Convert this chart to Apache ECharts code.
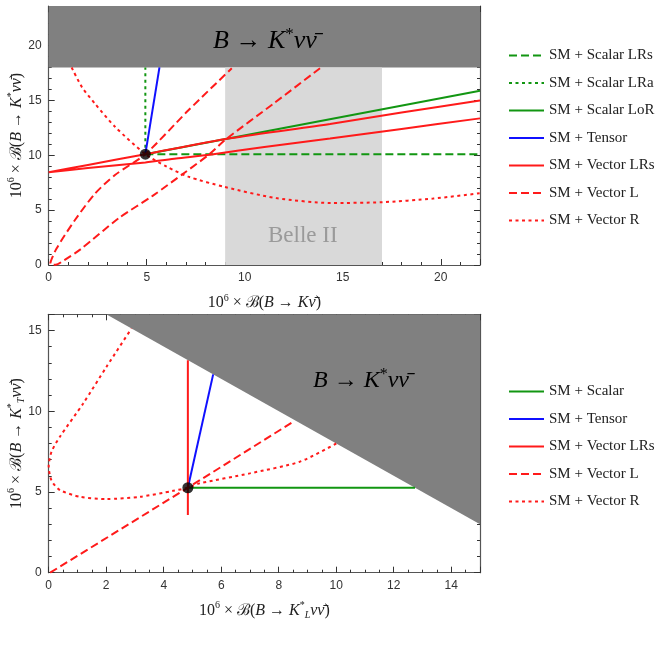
<!DOCTYPE html>
<html><head><meta charset="utf-8">
<script src="https://cdn.jsdelivr.net/npm/echarts@6/dist/echarts.min.js"></script>
<style>html,body{margin:0;padding:0;background:#fff}#c{width:665px;height:651px}</style>
</head><body><div id="c"></div>
<script>
// ---------- data ----------
// top panel: x = 10^6 B(B->K nu nu), y = 10^6 B(B->K* nu nu)
const topSM = [[4.93, 10.1]];
const topScalarLRs = [[4.93, 10.1], [22, 10.1]];
const topScalarLRa = [[4.93, 10.1], [4.93, 18]];
const topScalarLoR = [[4.93, 10.1], [22, 15.87]];
const topTensor = [[4.93, 10.1], [5.65, 18]];
const topVectorLRs = [[22, 13.36], [18, 12.4], [14.35, 11.52], [11, 10.75], [8.4, 10.1], [6.5, 9.7], [4.93, 9.35], [2, 8.83], [0, 8.45],
  [2, 9.12], [4.93, 10.1], [9.25, 11.55], [14.35, 12.85], [18, 13.9], [22, 14.98]];
const topVectorL = [[13.84, 17.93], [11.5, 14.75], [9.0, 11.4], [8.2, 10.1], [7.0, 8.5], [5.3, 6.3], [3.6, 4.3], [1.6, 1.4], [0.8, 0.45], [0.35, 0.02], [0.08, 0.1],
  [0.4, 1.5], [1.34, 4.1], [2.36, 6.5], [3.38, 8.2], [4.93, 10.1], [7.1, 14.05], [9.34, 17.93]];
const topVectorR = [[1.17, 18], [1.7, 16.2], [2.36, 14.7], [3.38, 12.6], [4.93, 10.1], [6.02, 8.96], [7.12, 8.05], [9.0, 7.1], [11.6, 6.1], [14.4, 5.65], [17, 5.72], [19.6, 6.05], [22, 6.54]];
const topExcluded = [[0, 18], [22, 18]];      // B->K* nu nu bound (shaded above)
const belleBand = [[9, 18], [17, 18]];        // Belle II range in x
// bottom panel: x = 10^6 B(B->K*_L nu nu), y = 10^6 B(B->K*_T nu nu)
const botSM = [[4.84, 5.26]];
const botScalar = [[4.84, 5.26], [12.74, 5.26]];
const botTensor = [[4.84, 5.26], [5.72, 12.28]];
const botVectorLRs = [[4.84, 3.57], [4.84, 13.16]];
const botVectorL = [[0.05, 0], [4.84, 5.26], [8.55, 9.4]];
const botVectorR = [[10.0, 8.0], [8.73, 6.87], [6.99, 6.15], [5.25, 5.53], [4.84, 5.26], [4.33, 5.07], [3.17, 4.7], [2.01, 4.56], [1.09, 4.7], [0.39, 5.12], [0.1, 5.7], [0, 6.6], [0.1, 7.5], [0.39, 8.42], [1.2, 10.48], [2.01, 12.75], [2.88, 15.12]];
const botExcluded = [[2, 16], [15, 3]];
const topLegendNames = ['SM + Scalar LRs', 'SM + Scalar LRa', 'SM + Scalar LoR', 'SM + Tensor', 'SM + Vector LRs', 'SM + Vector L', 'SM + Vector R'];
const botLegendNames = ['SM + Scalar', 'SM + Tensor', 'SM + Vector LRs', 'SM + Vector L', 'SM + Vector R'];
const topXTicks = {min: 0, max: 22, interval: 5};
const topYTicks = {min: 0, max: 23.6, interval: 5};
const botXTicks = {min: 0, max: 15, interval: 2};
const botYTicks = {min: 0, max: 16, interval: 5};

// ---------- styles ----------
const RED = '#ff1a1a', GREEN = '#129612', BLUE = '#1010ff';
const DASH = [8, 4], DOT = [3, 3.5];
const SERIF = '"Liberation Serif", "DejaVu Serif", serif';
const rich = (fs) => ({
  r: {fontFamily: SERIF, fontSize: fs, color: '#222'},
  i: {fontFamily: SERIF, fontSize: fs, fontStyle: 'italic', color: '#222'},
  sup: {fontFamily: SERIF, fontSize: Math.round(fs * 0.65), color: '#222', verticalAlign: 'top', lineHeight: fs + 4},
  sub: {fontFamily: SERIF, fontSize: Math.round(fs * 0.65), fontStyle: 'italic', color: '#222', verticalAlign: 'bottom', lineHeight: fs + 2}
});
const nuBar = 'ν\u0304';

const frame = '#555';
function mkX(gi, t, split, main, name) {
  return {
    type: 'value', gridIndex: gi, min: t.min, max: t.max, interval: t.interval,
    position: main ? 'bottom' : 'top',
    axisLine: {show: true, onZero: false, lineStyle: {color: frame, width: 1.2}},
    axisTick: {show: true, inside: true, length: 6, lineStyle: {color: '#333'}},
    minorTick: {show: true, splitNumber: split, length: 3, lineStyle: {color: '#333'}},
    splitLine: {show: false}, minorSplitLine: {show: false},
    axisLabel: {show: main, color: '#333', fontSize: 12, fontFamily: '"Liberation Sans", Arial, sans-serif', margin: 7,
      formatter: v => (Math.abs(v / t.interval - Math.round(v / t.interval)) < 1e-9 ? String(v) : '')},
    name: main ? name : '', nameLocation: 'middle', nameGap: 28, nameMoveOverlap: false,
    nameTextStyle: {rich: rich(16)}
  };
}
function mkY(gi, t, split, main, name) {
  return {
    type: 'value', gridIndex: gi, min: t.min, max: t.max, interval: t.interval,
    position: main ? 'left' : 'right',
    axisLine: {show: true, onZero: false, lineStyle: {color: frame, width: 1.2}},
    axisTick: {show: true, inside: true, length: 6, lineStyle: {color: '#333'}},
    minorTick: {show: true, splitNumber: split, length: 3, lineStyle: {color: '#333'}},
    splitLine: {show: false}, minorSplitLine: {show: false},
    axisLabel: {show: main, color: '#333', fontSize: 12, fontFamily: '"Liberation Sans", Arial, sans-serif', margin: 7,
      formatter: v => (Math.abs(v / t.interval - Math.round(v / t.interval)) < 1e-9 ? String(v) : '')},
    name: main ? name : '', nameLocation: 'middle', nameGap: 22, nameRotate: 90, nameMoveOverlap: false,
    nameTextStyle: {rich: rich(16)}
  };
}
const topXName = '{r|10}{sup|6}{r| × ℬ(}{i|B}{r| → }{i|K' + nuBar + '}{r|)}';
const topYName = '{r|10}{sup|6}{r| × ℬ(}{i|B}{r| → }{i|K}{sup|*}{i|ν' + nuBar + '}{r|)}';
const botXName = '{r|10}{sup|6}{r| × ℬ(}{i|B}{r| → }{i|K}{sup|*}{sub|L}{i|ν' + nuBar + '}{r|)}';
const botYName = '{r|10}{sup|6}{r| × ℬ(}{i|B}{r| → }{i|K}{sup|*}{sub|T}{i|ν' + nuBar + '}{r|)}';

function line(name, data, color, type, xi, yi, z) {
  return {name, type: 'line', data, xAxisIndex: xi, yAxisIndex: yi, symbol: 'none', showSymbol: false,
    lineStyle: {color, width: 2, type}, itemStyle: {color}, z: z || 3, silent: true, smooth: false};
}
function curve(name, data, color, type, xi, yi) {
  const s = line(name, data, color, type, xi, yi);
  s.smooth = 0.25;
  return s;
}
function shade(data, color, origin, xi, yi, z) {
  return {type: 'line', data, xAxisIndex: xi, yAxisIndex: yi, symbol: 'none', silent: true,
    lineStyle: {width: 0, color}, areaStyle: {color, opacity: 1, origin}, z: z};
}
function dot(data, xi, yi) {
  return {type: 'scatter', data, xAxisIndex: xi, yAxisIndex: yi, symbolSize: 11, itemStyle: {color: '#000'}, z: 10, silent: true};
}

const chart = echarts.init(document.getElementById('c'), null, {renderer: 'canvas'});
const legendCommon = {orient: 'vertical', itemWidth: 35, itemHeight: 14, itemGap: 12.5, selectedMode: false,
  itemStyle: {opacity: 0, borderWidth: 0},
  textStyle: {fontFamily: SERIF, fontSize: 15, color: '#222', padding: [0, 0, 0, 0]}};
chart.setOption({
  animation: false,
  grid: [
    {left: 48.7, top: 6, width: 431.3, height: 259, containLabel: false, outerBoundsMode: 'none'},
    {left: 48.7, top: 314.3, width: 431.3, height: 258.4, containLabel: false, outerBoundsMode: 'none'}
  ],
  xAxis: [
    mkX(0, topXTicks, 5, true, topXName), mkX(0, topXTicks, 5, false),
    mkX(1, botXTicks, 4, true, botXName), mkX(1, botXTicks, 4, false)
  ],
  yAxis: [
    mkY(0, topYTicks, 5, true, topYName), mkY(0, topYTicks, 5, false),
    mkY(1, botYTicks, 5, true, botYName), mkY(1, botYTicks, 5, false)
  ],
  legend: [
    Object.assign({}, legendCommon, {left: 503, top: 43, data: topLegendNames}),
    Object.assign({}, legendCommon, {left: 503, top: 379, data: botLegendNames})
  ],
  series: [
    shade(topExcluded, '#808080', 'end', 0, 0, 1),
    shade(belleBand, '#d9d9d9', 'start', 0, 0, 1),
    line('SM + Scalar LRs', topScalarLRs, GREEN, DASH, 0, 0),
    line('SM + Scalar LRa', topScalarLRa, GREEN, DOT, 0, 0),
    line('SM + Scalar LoR', topScalarLoR, GREEN, 'solid', 0, 0),
    line('SM + Tensor', topTensor, BLUE, 'solid', 0, 0),
    curve('SM + Vector LRs', topVectorLRs, RED, 'solid', 0, 0),
    curve('SM + Vector L', topVectorL, RED, DASH, 0, 0),
    curve('SM + Vector R', topVectorR, RED, DOT, 0, 0),
    dot(topSM, 0, 0),
    shade(botExcluded, '#808080', 'end', 2, 2, 1),
    line('SM + Scalar', botScalar, GREEN, 'solid', 2, 2),
    line('SM + Tensor', botTensor, BLUE, 'solid', 2, 2),
    line('SM + Vector LRs', botVectorLRs, RED, 'solid', 2, 2),
    line('SM + Vector L', botVectorL, RED, DASH, 2, 2),
    curve('SM + Vector R', botVectorR, RED, DOT, 2, 2),
    dot(botSM, 2, 2)
  ],
  graphic: [
    {type: 'text', left: 213, top: 26, z: 20, silent: true,
      style: {text: '{i|B}{r| → }{i|K}{s|*}{i|ν' + nuBar + '}', rich: Object.assign(rich(26), {s: {fontFamily: SERIF, fontSize: 17, color: '#222', verticalAlign: 'top', lineHeight: 30}})}},
    {type: 'text', left: 313, top: 367, z: 20, silent: true,
      style: {text: '{i|B}{r| → }{i|K}{s|*}{i|ν' + nuBar + '}', rich: Object.assign(rich(24), {s: {fontFamily: SERIF, fontSize: 16, color: '#222', verticalAlign: 'top', lineHeight: 28}})}},
    {type: 'text', left: 268, top: 224, z: 20, silent: true,
      style: {text: 'Belle II', fontFamily: SERIF, fontSize: 23, fill: '#9a9a9a'}}
  ]
});
</script></body></html>
